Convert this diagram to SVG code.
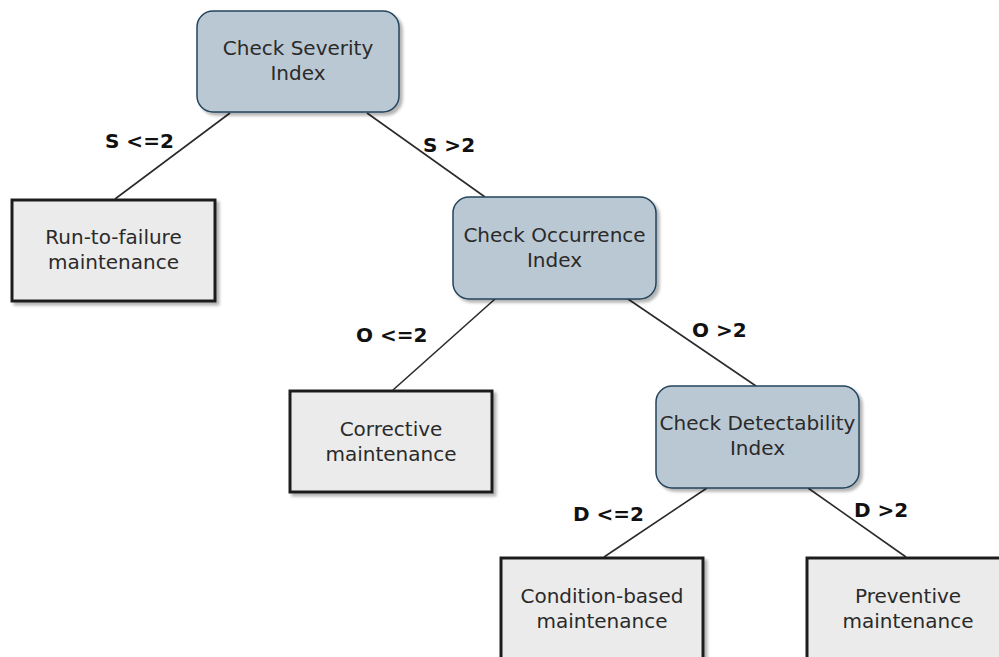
<svg xmlns="http://www.w3.org/2000/svg" width="999" height="657" viewBox="0 0 999 657">
  <defs>
    <filter id="shadow" x="-10%" y="-10%" width="130%" height="130%">
      <feGaussianBlur in="SourceAlpha" stdDeviation="1.5"/>
      <feOffset dx="3" dy="3" result="off"/>
      <feComponentTransfer><feFuncA type="linear" slope="0.3"/></feComponentTransfer>
      <feMerge><feMergeNode/><feMergeNode in="SourceGraphic"/></feMerge>
    </filter>
  </defs>
  <style>
    .check { fill: #bac8d3; stroke: #23445d; stroke-width: 1.5; filter: url(#shadow); }
    .action { fill: #ebebeb; stroke: #1e1e1e; stroke-width: 3; filter: url(#shadow); }
    .txt { font-family: "DejaVu Sans", Verdana, sans-serif; font-size: 20px; fill: #2a2a2a; text-anchor: middle; }
    .lbl { font-family: "DejaVu Sans", Verdana, sans-serif; font-size: 20px; font-weight: bold; fill: #111; }
    .edge { stroke: #2b2b2b; stroke-width: 1.6; fill: none; }
  </style>
  <rect width="999" height="657" fill="#ffffff"/>

  <!-- connectors -->
  <g id="connectors">
    <line class="edge" x1="230" y1="113" x2="115" y2="199"/>
    <line class="edge" x1="367" y1="113" x2="485" y2="197"/>
    <line class="edge" x1="495" y1="299" x2="393" y2="390"/>
    <line class="edge" x1="628" y1="299" x2="756" y2="386"/>
    <line class="edge" x1="707" y1="488" x2="604" y2="557"/>
    <line class="edge" x1="808" y1="488" x2="906" y2="557"/>
    <text class="lbl" x="105" y="148">S &lt;=2</text>
    <text class="lbl" x="423" y="152">S &gt;2</text>
    <text class="lbl" x="356" y="342">O &lt;=2</text>
    <text class="lbl" x="692" y="337">O &gt;2</text>
    <text class="lbl" x="573" y="521">D &lt;=2</text>
    <text class="lbl" x="854" y="517">D &gt;2</text>
  </g>

  <g id="severity">
    <rect class="check" x="197" y="11" width="202" height="101" rx="16"/>
    <text class="txt" x="298" y="55">Check Severity</text>
    <text class="txt" x="298" y="80">Index</text>
  </g>

  <g id="run-to-failure">
    <rect class="action" x="12" y="200" width="203" height="101"/>
    <text class="txt" x="113.5" y="244">Run-to-failure</text>
    <text class="txt" x="113.5" y="269">maintenance</text>
  </g>

  <g id="occurrence">
    <rect class="check" x="453" y="197" width="203" height="102" rx="16"/>
    <text class="txt" x="554.5" y="242">Check Occurrence</text>
    <text class="txt" x="554.5" y="267">Index</text>
  </g>

  <g id="corrective">
    <rect class="action" x="290" y="391" width="202" height="101"/>
    <text class="txt" x="391" y="436">Corrective</text>
    <text class="txt" x="391" y="461">maintenance</text>
  </g>

  <g id="detectability">
    <rect class="check" x="656" y="386" width="203" height="102" rx="16"/>
    <text class="txt" x="757.5" y="430">Check Detectability</text>
    <text class="txt" x="757.5" y="455">Index</text>
  </g>

  <g id="condition-based">
    <rect class="action" x="501" y="558" width="202" height="101"/>
    <text class="txt" x="602" y="603">Condition-based</text>
    <text class="txt" x="602" y="628">maintenance</text>
  </g>

  <g id="preventive">
    <rect class="action" x="807" y="558" width="202" height="101"/>
    <text class="txt" x="908" y="603">Preventive</text>
    <text class="txt" x="908" y="628">maintenance</text>
  </g>
</svg>
